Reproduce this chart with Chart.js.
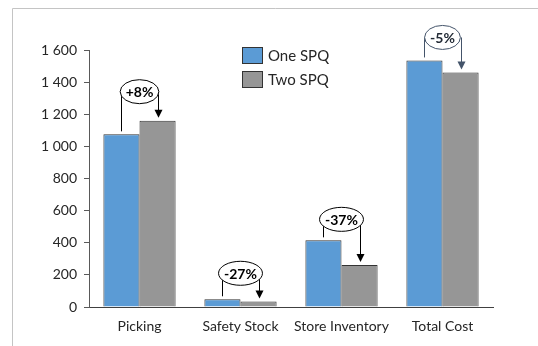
<!DOCTYPE html>
<html>
<head>
<meta charset="utf-8">
<script src="https://cdn.jsdelivr.net/npm/chart.js@4.4.1/dist/chart.umd.min.js"></script>
<style>
  html, body { margin: 0; padding: 0; background: #fff; }
  #wrap { position: relative; width: 538px; height: 346px; }
  canvas { display: block; }
</style>
</head>
<body>
<div id="wrap"><canvas id="c" width="538" height="346"></canvas></div>
<script>
// Categories and series
const categories = ['Picking', 'Safety Stock', 'Store Inventory', 'Total Cost'];
const oneSpq = [1075, 48, 415, 1535];
const twoSpq = [1160, 35, 262, 1460];
const yTicks = [0, 200, 400, 600, 800, 1000, 1200, 1400, 1600];

// Drawing settings for the change callouts
const calloutLift = [29, 26, 21, 23];
const calloutColor = ['#000000', '#000000', '#000000', '#44546A'];

const FONT = 'Lato, "Liberation Sans", sans-serif';
const BLUE = '#5B9BD5';
const GRAY = '#969696';
const EDGE = '#333333';

function fmtThousands(v) {
  return String(v).replace(/\B(?=(\d{3})+(?!\d))/g, ' ');
}
function pctLabel(a, b) {
  const p = Math.round((b - a) / a * 100);
  return (p > 0 ? '+' : '') + p + '%';
}

const framePlugin = {
  id: 'frame',
  beforeDraw(chart) {
    const ctx = chart.ctx;
    ctx.save();
    ctx.strokeStyle = '#c4c4c4';
    ctx.lineWidth = 1;
    ctx.beginPath();
    ctx.moveTo(12.5, 346);
    ctx.lineTo(12.5, 8.5);
    ctx.lineTo(538, 8.5);
    ctx.stroke();
    ctx.restore();
  }
};

const legendPlugin = {
  id: 'boxLegend',
  afterDraw(chart) {
    const ctx = chart.ctx;
    ctx.save();
    chart.data.datasets.forEach((ds, i) => {
      const x = 242, y = 47 + i * 24;
      ctx.fillStyle = ds.backgroundColor;
      ctx.fillRect(x, y, 21, 17);
      ctx.strokeStyle = EDGE;
      ctx.lineWidth = 1;
      ctx.strokeRect(x + 0.5, y + 0.5, 20, 16);
      ctx.fillStyle = '#262626';
      ctx.font = '15px ' + FONT;
      ctx.textBaseline = 'middle';
      ctx.textAlign = 'left';
      ctx.fillText(ds.label, x + 26, y + 9);
    });
    ctx.restore();
  }
};

const calloutPlugin = {
  id: 'callouts',
  afterDatasetsDraw(chart) {
    const ctx = chart.ctx;
    const m0 = chart.getDatasetMeta(0).data;
    const m1 = chart.getDatasetMeta(1).data;
    ctx.save();
    categories.forEach((c, i) => {
      const a = m0[i], b = m1[i];
      const col = calloutColor[i];
      const text = pctLabel(oneSpq[i], twoSpq[i]);
      const top = Math.min(a.y, b.y);
      const cy = top - calloutLift[i];
      const cx = (a.x + b.x) / 2;
      const xa = Math.round(a.x) + 0.5, xb = Math.round(b.x) + 0.5;
      ctx.strokeStyle = col;
      ctx.fillStyle = col;
      ctx.lineWidth = 1;
      // rising line from first bar
      ctx.beginPath();
      ctx.moveTo(xa, a.y - 3);
      ctx.lineTo(xa, cy);
      ctx.stroke();
      // falling line to second bar
      const tip = b.y - 3;
      ctx.beginPath();
      ctx.moveTo(xb, cy);
      ctx.lineTo(xb, tip - 7);
      ctx.stroke();
      ctx.beginPath();
      ctx.moveTo(xb - 4, tip - 8);
      ctx.lineTo(xb + 4, tip - 8);
      ctx.lineTo(xb, tip);
      ctx.closePath();
      ctx.fill();
      // ellipse with label
      ctx.font = 'bold 14px ' + FONT;
      const tw = ctx.measureText(text).width;
      const rx = (tw + 11) / 2, ry = 12;
      ctx.beginPath();
      ctx.ellipse(cx, cy, rx, ry, 0, 0, Math.PI * 2);
      ctx.fillStyle = '#ffffff';
      ctx.fill();
      ctx.stroke();
      ctx.fillStyle = col === '#000000' ? '#000000' : '#222a35';
      ctx.textAlign = 'center';
      ctx.textBaseline = 'middle';
      ctx.fillText(text, cx, cy + 1);
    });
    ctx.restore();
  }
};

new Chart(document.getElementById('c'), {
  type: 'bar',
  data: {
    labels: categories,
    datasets: [
      { label: 'One SPQ', data: oneSpq, backgroundColor: BLUE, borderColor: EDGE, borderWidth: 1 },
      { label: 'Two SPQ', data: twoSpq, backgroundColor: GRAY, borderColor: EDGE, borderWidth: 1 }
    ]
  },
  options: {
    responsive: false,
    animation: false,
    events: [],
    layout: { padding: { left: 0, top: 50, right: 45, bottom: 0 } },
    datasets: { bar: { categoryPercentage: 0.715, barPercentage: 1.0 } },
    plugins: {
      legend: { display: false },
      tooltip: { enabled: false }
    },
    scales: {
      x: {
        afterFit(s) { s.height = 39; },
        grid: { display: false, drawTicks: false },
        border: { display: true, color: '#404040', width: 1 },
        ticks: { padding: 11, color: '#262626', font: { family: FONT, size: 14 } }
      },
      y: {
        min: 0,
        max: 1600,
        afterFit(s) { s.width = 89; },
        afterBuildTicks(s) { s.ticks = yTicks.map(v => ({ value: v })); },
        grid: { drawOnChartArea: false, drawTicks: true, tickLength: 5, color: '#595959' },
        border: { display: true, color: '#595959', width: 1 },
        ticks: {
          padding: 7,
          color: '#262626',
          font: { family: FONT, size: 14 },
          callback: v => fmtThousands(v)
        }
      }
    }
  },
  plugins: [framePlugin, calloutPlugin, legendPlugin]
});
</script>
</body>
</html>
